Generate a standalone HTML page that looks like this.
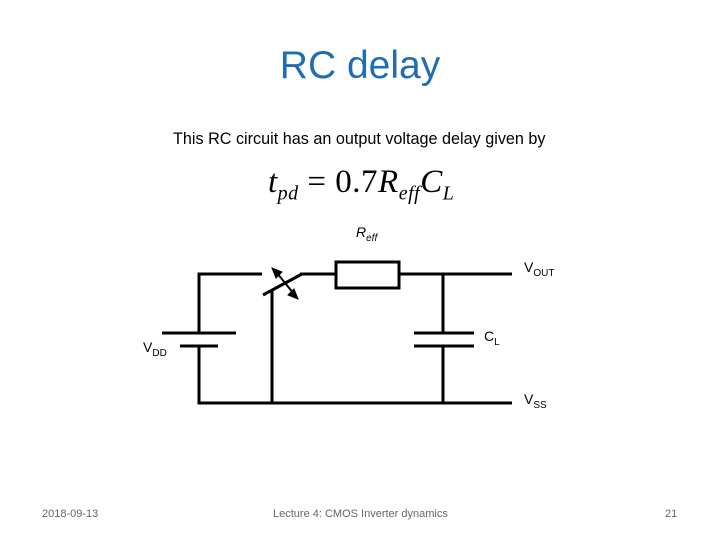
<!DOCTYPE html>
<html><head><style>
body{margin:0;background:#fff;}
#s{position:relative;width:720px;height:540px;overflow:hidden;font-family:"Liberation Sans",sans-serif;}
.t{position:absolute;white-space:nowrap;}
</style></head><body><div id="s">
<div class="t" style="left:0;width:720px;text-align:center;top:44px;font-size:39px;color:#1f6db3;">RC delay</div>
<div class="t" style="left:173px;top:130px;font-size:16.2px;color:#000;">This RC circuit has an output voltage delay given by</div>
<div class="t" style="left:268px;top:164px;font-family:'Liberation Serif',serif;font-size:33px;color:#000;letter-spacing:0.5px;"><i>t</i><sub style="font-size:20px"><i>pd</i></sub> = 0.7<i>R</i><sub style="font-size:20px"><i>eff</i></sub><i>C</i><sub style="font-size:20px"><i>L</i></sub></div>
<svg width="720" height="540" style="position:absolute;left:0;top:0" fill="none" stroke="#000" stroke-width="3">
<polyline points="199,333 199,274 262,274"/>
<line x1="263" y1="295" x2="302" y2="274"/>
<line x1="300" y1="274" x2="336" y2="274"/>
<rect x="336" y="262" width="63" height="26"/>
<line x1="399" y1="274" x2="512" y2="274"/>
<line x1="443" y1="274" x2="443" y2="333"/>
<line x1="414" y1="333" x2="474" y2="333"/>
<line x1="414" y1="346" x2="474" y2="346"/>
<line x1="443" y1="346" x2="443" y2="403"/>
<line x1="162" y1="333" x2="236" y2="333"/>
<line x1="180" y1="346" x2="218" y2="346"/>
<polyline points="199,346 199,403 512,403"/>
<line x1="272" y1="291" x2="272" y2="403"/>
<line x1="277" y1="273" x2="294" y2="294" stroke-width="2"/>
<polygon points="272,268 282,272 276,278" fill="#000" stroke-width="1"/>
<polygon points="298,299 288,295 294,289" fill="#000" stroke-width="1"/>
</svg>
<div class="t" style="left:356px;top:224px;font-size:14px;"><i>R</i><sub style="font-size:10px"><i>eff</i></sub></div>
<div class="t" style="left:524px;top:259px;font-size:14px;">V<sub style="font-size:10px">OUT</sub></div>
<div class="t" style="left:484px;top:328px;font-size:14px;">C<sub style="font-size:10px">L</sub></div>
<div class="t" style="left:143px;top:339px;font-size:14px;">V<sub style="font-size:10px">DD</sub></div>
<div class="t" style="left:524px;top:391px;font-size:14px;">V<sub style="font-size:10px">SS</sub></div>
<div class="t" style="left:42px;top:508px;font-size:11px;color:#666;">2018-09-13</div>
<div class="t" style="left:273px;top:508px;font-size:11px;color:#666;">Lecture 4: CMOS Inverter dynamics</div>
<div class="t" style="left:665px;top:508px;font-size:11px;color:#666;">21</div>
</div></body></html>
